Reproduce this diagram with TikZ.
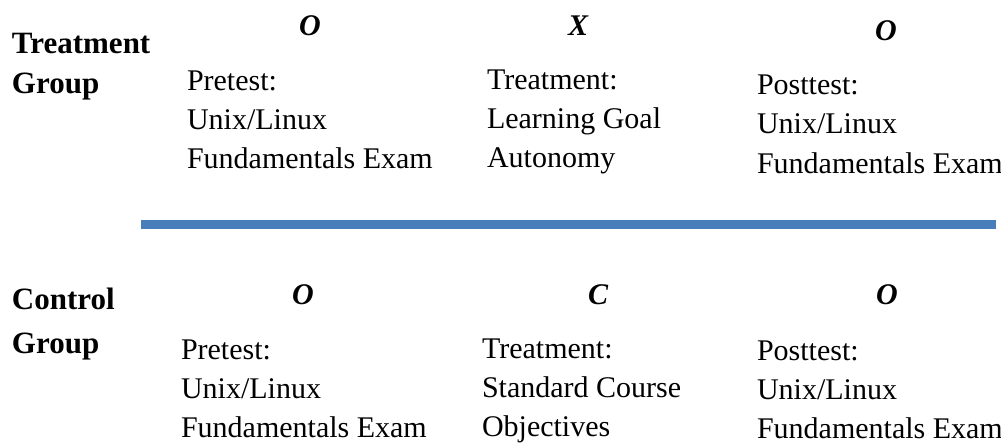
\documentclass[tikz,border=0pt]{standalone}
\usepackage{fontspec}
\setmainfont{Liberation Serif}
\usepackage{tikz}
\definecolor{barblue}{RGB}{74,126,187}

\begin{document}
\begin{tikzpicture}[x=1pt, y=-1pt,
        every node/.style={inner sep=0pt, outer sep=0pt},
        grp/.style={anchor=base west, align=left, font=\fontsize{31}{40}\selectfont\bfseries},
        sym/.style={anchor=base, font=\fontsize{30}{39}\selectfont\bfseries\itshape},
        txt/.style={anchor=base west, align=left, font=\fontsize{30}{39}\selectfont}]
        \useasboundingbox (0, 0) rectangle (1001, 442);

        % base anchor = baseline of the last line
        \node[grp] (tg) at (12, 93) {Treatment\\Group};
        \node[sym] (o1) at (310, 35) {O};
        \node[sym] (x) at (578, 35) {X};
        \node[sym] (o2) at (886, 40) {O};
        \node[txt] (pre1) at (187, 168) {Pretest:\\Unix/Linux\\Fundamentals Exam};
        \node[txt] (tr1) at (487, 167) {Treatment:\\Learning Goal\\Autonomy};
        \node[txt, font=\fontsize{30}{39.5}\selectfont] (post1) at (757, 173) {Posttest:\\Unix/Linux\\Fundamentals Exam};

        \draw[barblue, line width=9pt] (141, 224.5) -- (996, 224.5);

        \node[grp, font=\fontsize{31}{44}\selectfont\bfseries] (cg) at (12, 353) {Control\\Group};
        \node[sym] (o3) at (303, 304) {O};
        \node[sym] (c) at (598, 304) {C};
        \node[sym] (o4) at (887, 304) {O};
        \node[txt] (pre2) at (181, 437) {Pretest:\\Unix/Linux\\Fundamentals Exam};
        \node[txt] (tr2) at (482, 436) {Treatment:\\Standard Course\\Objectives};
        \node[txt] (post2) at (757, 438) {Posttest:\\Unix/Linux\\Fundamentals Exam};
    \end{tikzpicture}
\end{document}
